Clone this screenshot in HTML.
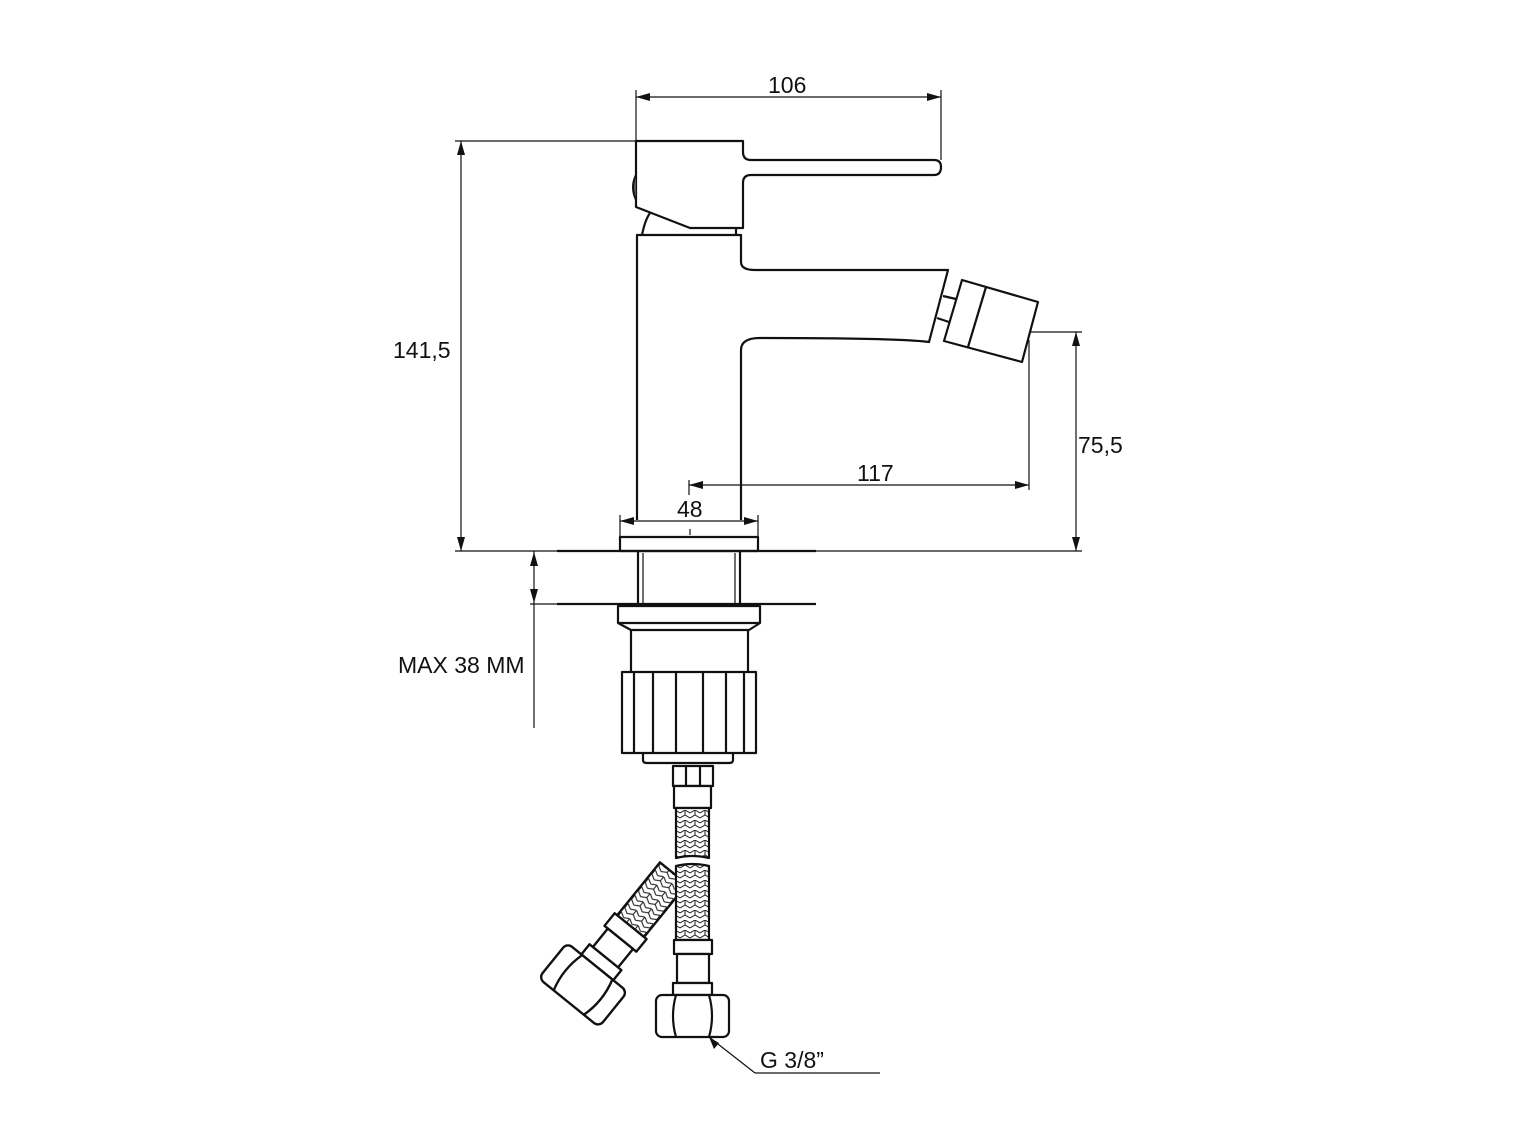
<!DOCTYPE html>
<html><head><meta charset="utf-8"><style>
html,body{margin:0;padding:0;background:#fff;}
svg{display:block;}
text{font-family:"Liberation Sans",sans-serif;font-size:23px;fill:#111;}
</style></head><body>
<svg width="1531" height="1148" viewBox="0 0 1531 1148" xmlns="http://www.w3.org/2000/svg">
<defs>
<pattern id="br" width="10" height="10" patternUnits="userSpaceOnUse">
<rect width="10" height="10" fill="#fff"/>
<path d="M0 3 L5 0 L10 3 M0 8 L5 5 L10 8 M5 0 V5" stroke="#222" stroke-width="1" fill="none"/>
</pattern>
</defs>
<g stroke="#111" fill="none">
<g stroke-width="1.2">
<line x1="636" y1="90" x2="636" y2="141"/>
<line x1="941" y1="90" x2="941" y2="160"/>
<line x1="636" y1="97" x2="941" y2="97"/>
<line x1="455" y1="141" x2="636" y2="141"/>
<line x1="461" y1="141" x2="461" y2="551"/>
<line x1="455" y1="551" x2="1082" y2="551"/>
<line x1="1030" y1="332" x2="1082" y2="332"/>
<line x1="1076" y1="332" x2="1076" y2="551"/>
<line x1="1029" y1="340" x2="1029" y2="490"/>
<line x1="689" y1="480" x2="689" y2="495"/>
<line x1="689" y1="485" x2="1029" y2="485"/>
<line x1="620" y1="515" x2="620" y2="537"/>
<line x1="758" y1="515" x2="758" y2="551"/>
<line x1="620" y1="521" x2="758" y2="521"/>
<line x1="690" y1="529" x2="690" y2="535"/>
<line x1="530" y1="604" x2="557" y2="604"/>
<line x1="534" y1="551" x2="534" y2="728"/>
<line x1="709" y1="1037" x2="755" y2="1073"/>
<line x1="755" y1="1073" x2="880" y2="1073"/>
</g>
<g fill="#111" stroke="none">
<path d="M636 97 l14 -4 v8z"/><path d="M941 97 l-14 -4 v8z"/>
<path d="M461 141 l-4 14 h8z"/><path d="M461 551 l-4 -14 h8z"/>
<path d="M1076 332 l-4 14 h8z"/><path d="M1076 551 l-4 -14 h8z"/>
<path d="M689 485 l14 -4 v8z"/><path d="M1029 485 l-14 -4 v8z"/>
<path d="M620 521 l14 -4 v8z"/><path d="M758 521 l-14 -4 v8z"/>
<path d="M534 552 l-4 14 h8z"/><path d="M534 603 l-4 -14 h8z"/>
<path d="M709 1037 l5 12 l5 -6z"/>
</g>
<g stroke-width="2.2" stroke-linejoin="round">
<path d="M636 141 H743 V152 Q743 160 751 160 H934 Q941 160 941 167 Q941 175 934 175 H751 Q743 175 743 183 V228 H690 L636 207 Z"/>
<path d="M636 175 Q630 187 636 200" stroke-width="2" fill="#555"/>
<path d="M642 235 Q645 220 650 213"/>
<line x1="736" y1="228" x2="736" y2="235"/>
<path d="M637 520 V235 H741 V262 Q741 270 755 270 H948 L929 342 Q900 338 760 338 Q741 338 741 350 V520"/>
<line x1="943" y1="296" x2="956" y2="299"/>
<line x1="937" y1="318" x2="949" y2="322"/>
<path d="M962 280 L1038 302 L1022 362 L944 341 Z"/>
<line x1="986" y1="287" x2="968" y2="347"/>
<rect x="620" y="537" width="138" height="14"/>
<line x1="557" y1="551" x2="816" y2="551"/>
<line x1="557" y1="604" x2="816" y2="604"/>
<line x1="638" y1="551" x2="638" y2="604"/>
<line x1="740" y1="551" x2="740" y2="604"/>
<line x1="643" y1="553" x2="643" y2="604" stroke-width="1.2"/>
<line x1="735" y1="553" x2="735" y2="604" stroke-width="1.2"/>
<path d="M618 606 H760 V623 L749 630 H631 L618 623 Z"/>
<line x1="618" y1="623" x2="760" y2="623"/>
<path d="M631 630 V672 M748 630 V672"/>
<rect x="622" y="672" width="134" height="81"/>
<path d="M634 672V753M653 672V753M676 672V753M703 672V753M726 672V753M744 672V753"/>
<path d="M643 753 V760 Q643 763 647 763 H729 Q733 763 733 760 V753"/>
<g transform="translate(668,880) rotate(39) scale(1.08)">
<rect x="-16" y="-8" width="32" height="63" fill="url(#br)"/>
<rect x="-19" y="55" width="38" height="15" fill="#fff"/>
<rect x="-15" y="70" width="30" height="22" fill="#fff"/>
<rect x="-19" y="92" width="38" height="12" fill="#fff"/>
<rect x="-36" y="104" width="72" height="42" rx="6" fill="#fff"/>
<path d="M-18 104 Q-24 125 -18 146 M18 104 Q24 125 18 146"/>
</g>
<rect x="673" y="766" width="40" height="20" fill="#fff"/>
<path d="M686 766V786 M700 766V786"/>
<rect x="674" y="786" width="37" height="22" fill="#fff"/>
<path d="M676 808 V858 Q692 854 709 858 V808 Z" fill="url(#br)"/>
<path d="M676 866 Q692 862 709 866 V940 H676 Z" fill="url(#br)"/>
<rect x="674" y="940" width="38" height="14" fill="#fff"/>
<rect x="677" y="954" width="32" height="29" fill="#fff"/>
<rect x="673" y="983" width="39" height="12" fill="#fff"/>
<rect x="656" y="995" width="73" height="42" rx="6" fill="#fff"/>
<path d="M676 995 Q670 1016 676 1037 M709 995 Q715 1016 709 1037"/>
</g>
</g>
<text x="768" y="93">106</text>
<text x="393" y="358">141,5</text>
<text x="1078" y="453">75,5</text>
<text x="857" y="481">117</text>
<text x="677" y="517">48</text>
<text x="398" y="673">MAX 38 MM</text>
<text x="760" y="1068">G 3/8”</text>
</svg>
</body></html>
